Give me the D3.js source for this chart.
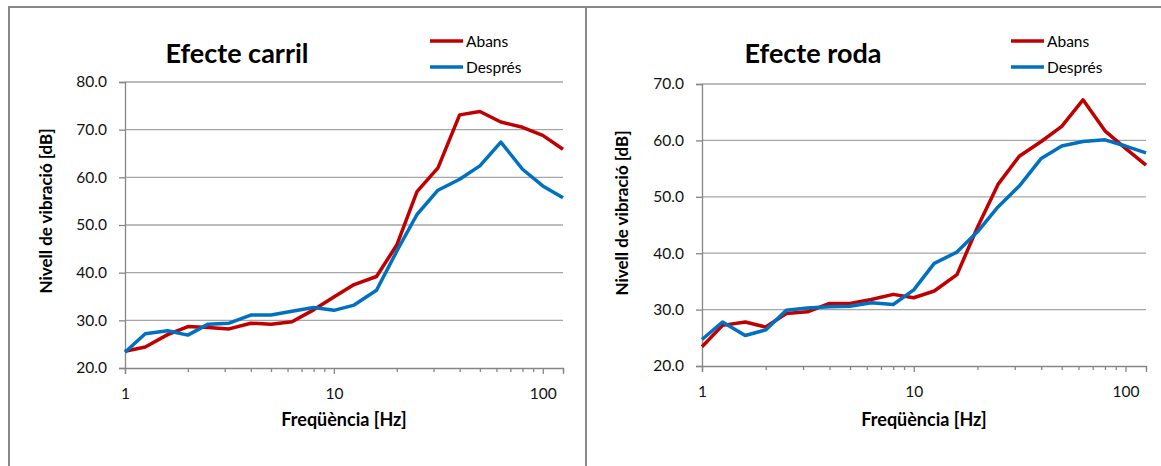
<!DOCTYPE html>
<html>
<head>
<meta charset="utf-8">
<script src="https://cdn.jsdelivr.net/npm/d3@7"></script>
<style>
  body { margin: 0; background: #fff; }
  svg { display: block; font-family: Lato, "Noto Sans", sans-serif; }
</style>
</head>
<body>
<svg width="1161" height="466"></svg>
<script>
// 1/3-octave band centre frequencies (Hz)
const freqs = [1, 1.25, 1.6, 2, 2.5, 3.15, 4, 5, 6.3, 8, 10, 12.5, 16, 20, 25, 31.5, 40, 50, 63, 80, 100, 125];

// Efecte carril
const carrilAbans   = [23.5, 24.4, 27.0, 28.7, 28.5, 28.2, 29.4, 29.2, 29.7, 32.2, 34.9, 37.5, 39.2, 45.8, 57.0, 62.0, 73.1, 73.8, 71.6, 70.5, 68.8, 65.9];
const carrilDespres = [23.3, 27.2, 27.8, 26.9, 29.2, 29.4, 31.1, 31.1, 31.9, 32.7, 32.1, 33.2, 36.3, 44.5, 52.2, 57.3, 59.6, 62.4, 67.4, 61.7, 58.2, 55.7];

// Efecte roda
const rodaAbans   = [23.4, 27.2, 27.8, 26.9, 29.3, 29.6, 31.1, 31.1, 31.8, 32.7, 32.1, 33.3, 36.2, 44.6, 52.2, 57.2, 59.8, 62.5, 67.2, 61.7, 58.6, 55.6];
const rodaDespres = [24.7, 27.8, 25.4, 26.4, 29.9, 30.3, 30.5, 30.6, 31.2, 30.9, 33.5, 38.2, 40.2, 43.8, 48.2, 51.9, 56.8, 59.0, 59.8, 60.1, 59.0, 57.8];

const seriesNames = ['Abans', 'Després'];
const xTickLabels = [1, 10, 100];
const xMinorTicks = [2, 3, 4, 5, 6, 7, 8, 9, 20, 30, 40, 50, 60, 70, 80, 90, 125];

const colors = { 'Abans': '#c00000', 'Després': '#0070c0' };

const panels = [
  { title: 'Efecte carril', series: [carrilAbans, carrilDespres], yMax: 80,
    left: 125, right: 563, top: 82, bottom: 368, titleX: 237, legendX: 430, yTitleX: 46 },
  { title: 'Efecte roda', series: [rodaAbans, rodaDespres], yMax: 70,
    left: 702, right: 1146, top: 84, bottom: 366, titleX: 813, legendX: 1011, yTitleX: 622 }
];

const svg = d3.select('svg');

// outer frames
svg.append('path')
   .attr('d', 'M9,466 V7 H1161 M586,7 V466')
   .attr('fill', 'none')
   .attr('stroke', '#888')
   .attr('stroke-width', 2);

panels.forEach(p => {
  const g = svg.append('g');
  const x = d3.scaleLog().domain([1, 125]).range([p.left, p.right]);
  const y = d3.scaleLinear().domain([20, p.yMax]).range([p.bottom, p.top]);
  const yTicks = d3.range(20, p.yMax + 1, 10);

  // gridlines
  g.append('g')
   .selectAll('line')
   .data(yTicks.slice(1))
   .join('line')
   .attr('x1', p.left).attr('x2', p.right)
   .attr('y1', d => y(d)).attr('y2', d => y(d))
   .attr('stroke', '#a6a6a6')
   .attr('stroke-width', 1.3);

  // y axis
  const yAxis = g.append('g')
   .attr('transform', `translate(${p.left},0)`)
   .call(d3.axisLeft(y).tickValues(yTicks).tickFormat(d3.format('.1f')).tickSize(6).tickPadding(12));
  yAxis.select('.domain').attr('stroke', '#868686').attr('stroke-width', 1.3);
  yAxis.selectAll('.tick line').attr('stroke', '#868686').attr('stroke-width', 1.3);
  yAxis.selectAll('.tick text').attr('font-size', 15.5).attr('fill', '#111').attr('font-family', 'Lato');

  // x axis: major ticks with labels
  const xAxis = g.append('g')
   .attr('transform', `translate(0,${p.bottom})`)
   .call(d3.axisBottom(x).tickValues(xTickLabels).tickFormat(d3.format('d')).tickSize(6).tickPadding(14));
  xAxis.select('.domain').attr('stroke', '#868686').attr('stroke-width', 1.3);
  xAxis.selectAll('.tick line').attr('stroke', '#868686').attr('stroke-width', 1.3);
  xAxis.selectAll('.tick text').attr('font-size', 15.5).attr('fill', '#111').attr('font-family', 'Lato');

  // minor ticks
  g.append('g')
   .attr('transform', `translate(0,${p.bottom})`)
   .call(d3.axisBottom(x).tickValues(xMinorTicks).tickFormat('').tickSize(4))
   .call(a => a.select('.domain').remove())
   .selectAll('.tick line').attr('stroke', '#868686').attr('stroke-width', 1.3);

  // lines
  const line = d3.line().x((d, i) => x(freqs[i])).y(d => y(d));
  p.series.forEach((s, i) => {
    g.append('path')
     .datum(s)
     .attr('d', line)
     .attr('fill', 'none')
     .attr('stroke', colors[seriesNames[i]])
     .attr('stroke-width', 3.5)
     .attr('stroke-linejoin', 'round');
  });

  // title
  g.append('text')
   .attr('x', p.titleX).attr('y', 63)
   .attr('text-anchor', 'middle')
   .attr('font-size', 27).attr('font-weight', 'bold')
   .text(p.title);

  // legend
  seriesNames.forEach((n, i) => {
    const ly = 41 + i * 26;
    g.append('line')
     .attr('x1', p.legendX).attr('x2', p.legendX + 33)
     .attr('y1', ly).attr('y2', ly)
     .attr('stroke', colors[n]).attr('stroke-width', 3.5);
    g.append('text')
     .attr('x', p.legendX + 36).attr('y', ly + 5.5)
     .attr('font-size', 15.5)
     .text(n);
  });

  // axis titles
  g.append('text')
   .attr('transform', `translate(${p.yTitleX},${p.top + 129}) rotate(-90)`)
   .attr('text-anchor', 'middle')
   .attr('dy', '0.35em')
   .attr('font-size', 17).attr('font-weight', 'bold')
   .text('Nivell de vibració [dB]');

  g.append('text')
   .attr('x', (p.left + p.right) / 2)
   .attr('y', 426)
   .attr('text-anchor', 'middle')
   .attr('font-size', 18).attr('font-weight', 'bold')
   .text('Freqüència [Hz]');
});
</script>
</body>
</html>
